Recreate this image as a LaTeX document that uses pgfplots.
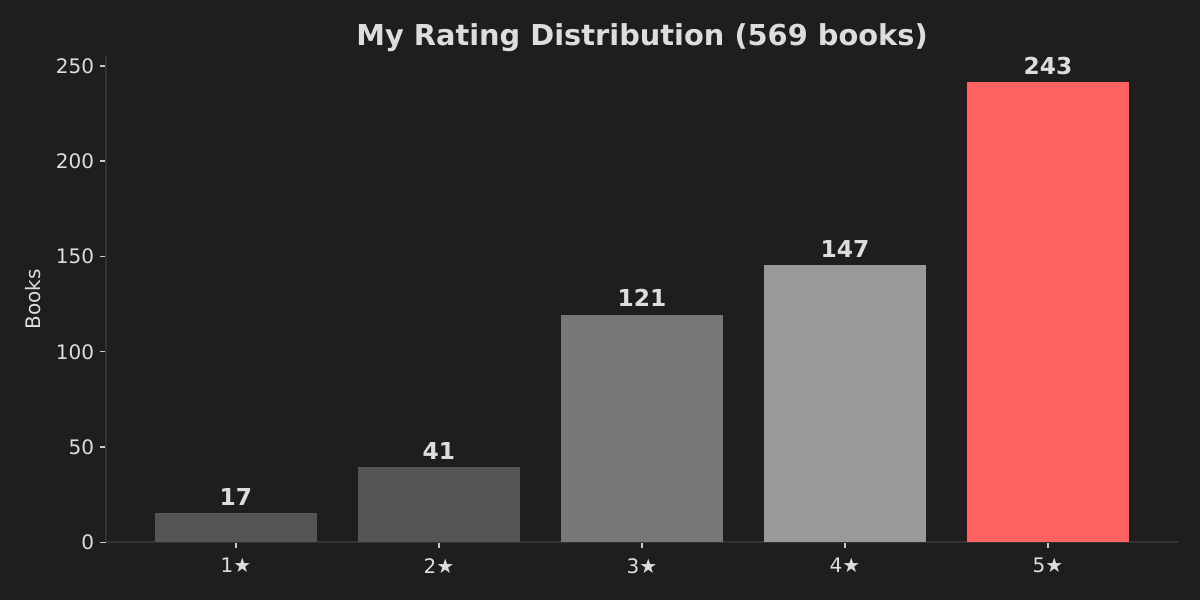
\documentclass[border=0pt]{standalone}
\usepackage{pgfplots}
\pgfplotsset{compat=1.18}
\usepackage{fontspec}
\setmainfont{DejaVu Sans}

\definecolor{bgc}{HTML}{1E1E1E}
\definecolor{spine}{HTML}{333333}
\definecolor{txt}{HTML}{DDDDDD}
\definecolor{tickc}{HTML}{CCCCCC}
\definecolor{barlow}{HTML}{555555}
\definecolor{barmid}{HTML}{777777}
\definecolor{barhigh}{HTML}{999999}
\definecolor{bartop}{HTML}{FF6361}

\begin{document}
\begin{tikzpicture}
% canvas: 10in x 5in, axis box at origin
\path[use as bounding box, fill=bgc] (-63.6pt,-34.6pt) rectangle (656.4pt,325.4pt);
\begin{axis}[
  scale only axis,
  width=643.2pt, height=291.6pt,
  xmin=-0.64, xmax=4.64,
  ymin=0, ymax=255,
  axis x line*=bottom, axis y line*=left,
  axis line style={-, spine, line width=1.1pt},
  xtick={0,...,4},
  xticklabels={1★,2★,3★,4★,5★},
  ytick={0,50,...,250},
  tick align=outside,
  major tick length=3.6pt,
  tick style={tickc, line width=0.8pt},
  ticklabel style={font=\fontsize{12}{14}\selectfont, text=txt},
  xticklabel style={yshift=-2.4pt},
  /pgf/number format/assume math mode=true,
  ylabel={Books},
  ylabel style={at={(axis description cs:-0.068,0.5)}, anchor=center,
    font=\fontsize{12}{14}\selectfont, text=txt},
  title={My Rating Distribution (569 books)},
  every axis title/.style={at={(axis description cs:0.5,1)}, anchor=base,
    yshift=6.3pt, font=\bfseries\fontsize{17.3}{20}\selectfont, text=txt},
  point meta=explicit symbolic,
  every node near coord/.append style={anchor=base, yshift=4.6pt,
    font=\bfseries\fontsize{14}{16}\selectfont, text=txt},
]
% bar heights as drawn, labels as printed
\addplot[ybar, bar shift=0pt, bar width=0.8, fill=barlow, draw=none, nodes near coords]
  coordinates {(0,15.5) [17]};
\addplot[ybar, bar shift=0pt, bar width=0.8, fill=barlow, draw=none, nodes near coords]
  coordinates {(1,39.6) [41]};
\addplot[ybar, bar shift=0pt, bar width=0.8, fill=barmid, draw=none, nodes near coords]
  coordinates {(2,119.5) [121]};
\addplot[ybar, bar shift=0pt, bar width=0.8, fill=barhigh, draw=none, nodes near coords]
  coordinates {(3,145.4) [147]};
\addplot[ybar, bar shift=0pt, bar width=0.8, fill=bartop, draw=none, nodes near coords]
  coordinates {(4,241.5) [243]};
\end{axis}
\end{tikzpicture}
\end{document}
